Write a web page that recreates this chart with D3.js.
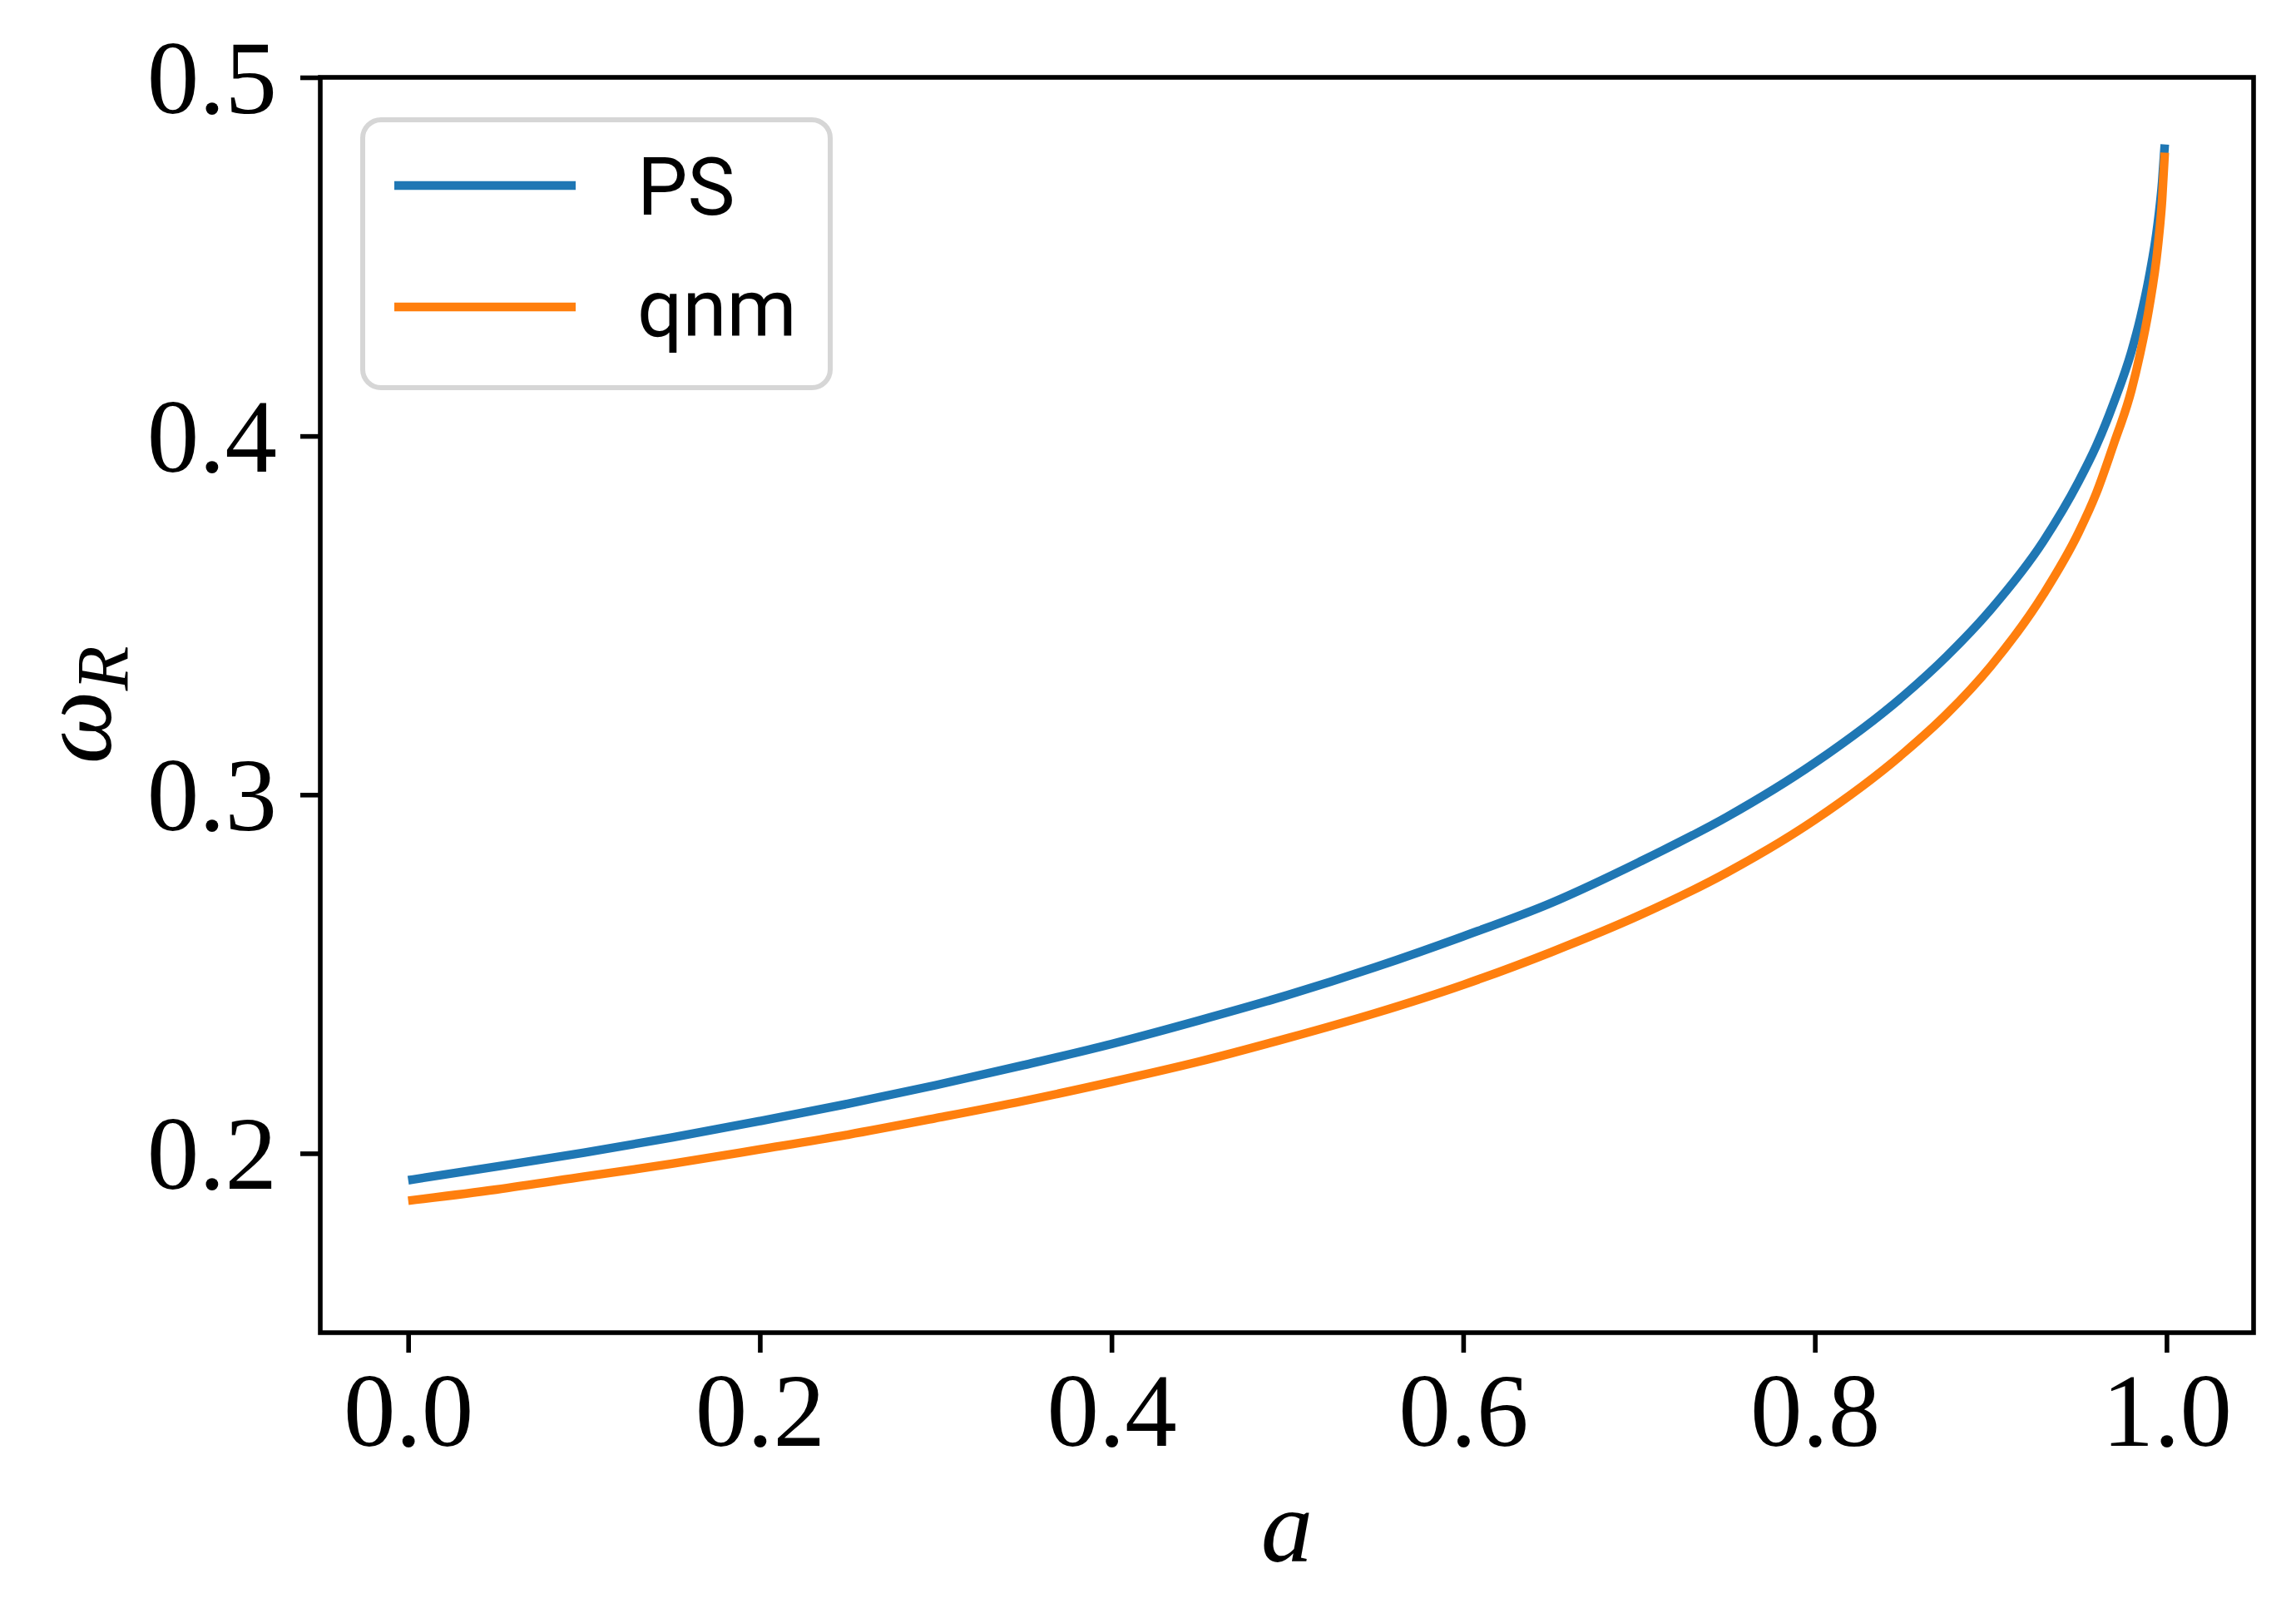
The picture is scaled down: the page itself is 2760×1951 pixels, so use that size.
<!DOCTYPE html>
<html>
<head>
<meta charset="UTF-8">
<title>omega_R vs a</title>
<script src="https://d3js.org/d3.v7.min.js"></script>
<style>
  body { margin: 0; background: #fff; }
  .tick text { font-family: "Liberation Serif", serif; font-size: 125px; fill: #000; }
  .tick line { stroke: #000; stroke-width: 5.6; }
  .domain { display: none; }
  .legend-text { font-family: Roboto, sans-serif; font-size: 96px; fill: #000; }
  .axis-label { font-family: "Liberation Serif", serif; font-style: italic; fill: #000; }
</style>
</head>
<body>
<div id="chart"></div>
<script>
// spin parameter a
const spins = [0, 0.05, 0.1, 0.15, 0.2, 0.25, 0.3, 0.35, 0.4, 0.45, 0.5, 0.55, 0.6, 0.65, 0.7, 0.75, 0.8, 0.85, 0.875, 0.9, 0.93, 0.95, 0.96, 0.97, 0.98, 0.985, 0.99, 0.995, 0.9975, 0.999];
// photon sphere frequency
const psValues = [0.1925, 0.1963, 0.2002, 0.2044, 0.2090, 0.2138, 0.2190, 0.2246, 0.2305, 0.2371, 0.2441, 0.2519, 0.2605, 0.2698, 0.2812, 0.2938, 0.3089, 0.3274, 0.3386, 0.3516, 0.3707, 0.3873, 0.3972, 0.4093, 0.4235, 0.4327, 0.4441, 0.4593, 0.4708, 0.4813];
// quasinormal mode frequency
const qnmValues = [0.1868, 0.1899, 0.1935, 0.1971, 0.2011, 0.2052, 0.2098, 0.2146, 0.2199, 0.2256, 0.2321, 0.2391, 0.2470, 0.2561, 0.2663, 0.2783, 0.2930, 0.3114, 0.3225, 0.3358, 0.3559, 0.3731, 0.3840, 0.3978, 0.4127, 0.4230, 0.4355, 0.4525, 0.4660, 0.4790];
const seriesNames = ["PS", "qnm"];
const seriesColors = ["#1f77b4", "#ff7f0e"];
const xTicks = [0, 0.2, 0.4, 0.6, 0.8, 1.0];
const yTicks = [0.2, 0.3, 0.4, 0.5];

const W = 2760, H = 1951;
const margin = {top: 93, right: 51, bottom: 349, left: 385};
const width = W - margin.left - margin.right,
      height = H - margin.top - margin.bottom;

const svg = d3.select("#chart").append("svg")
    .attr("width", W).attr("height", H);
svg.append("rect").attr("width", W).attr("height", H).attr("fill", "#fff");

const g = svg.append("g")
    .attr("transform", "translate(" + margin.left + "," + margin.top + ")");

const x = d3.scaleLinear().domain([-0.05, 1.0495]).range([0, width]);
const y = d3.scaleLinear().domain([0.15, 0.5]).range([height, 0]);

// lines
const line = d3.line()
    .curve(d3.curveMonotoneX)
    .x(d => x(d[0]))
    .y(d => y(d[1]));

[psValues, qnmValues].forEach(function(vals, i) {
  g.append("path")
    .datum(spins.map((a, j) => [a, vals[j]]))
    .attr("fill", "none")
    .attr("stroke", seriesColors[i])
    .attr("stroke-width", 10.4)
    .attr("stroke-linejoin", "round")
    .attr("d", line);
});

// axes
const xAxis = g.append("g")
    .attr("transform", "translate(0," + height + ")")
    .call(d3.axisBottom(x).tickValues(xTicks).tickSize(24).tickPadding(24)
      .tickFormat(d3.format(".1f")));
xAxis.selectAll(".tick text").attr("dy", null).attr("y", 136);

const yAxis = g.append("g")
    .call(d3.axisLeft(y).tickValues(yTicks).tickSize(24).tickPadding(28)
      .tickFormat(d3.format(".1f")));
yAxis.selectAll(".tick text").attr("dy", null).attr("y", 42);

// frame
g.append("rect")
    .attr("width", width).attr("height", height)
    .attr("fill", "none").attr("stroke", "#000").attr("stroke-width", 5.6);

// axis labels
svg.append("text")
    .attr("class", "axis-label")
    .attr("x", margin.left + width / 2)
    .attr("y", 1877)
    .attr("text-anchor", "middle")
    .attr("font-size", 125)
    .text("a");

const yl = svg.append("text")
    .attr("class", "axis-label")
    .attr("transform", "translate(133," + (margin.top + height / 2) + ") rotate(-90)")
    .attr("text-anchor", "middle")
    .attr("font-size", 125);
yl.append("tspan").text("ω");
yl.append("tspan").attr("font-size", 88).attr("dy", 20).text("R");

// legend
const leg = svg.append("g");
leg.append("rect")
    .attr("x", 436).attr("y", 144)
    .attr("width", 562).attr("height", 322)
    .attr("rx", 22).attr("ry", 22)
    .attr("fill", "#fff").attr("fill-opacity", 0.8)
    .attr("stroke", "#d6d6d6").attr("stroke-width", 6);

seriesNames.forEach(function(name, i) {
  const ly = 223 + i * 146;
  leg.append("line")
    .attr("x1", 474).attr("x2", 692)
    .attr("y1", ly).attr("y2", ly)
    .attr("stroke", seriesColors[i]).attr("stroke-width", 10.4);
  leg.append("text")
    .attr("class", "legend-text")
    .attr("x", 766).attr("y", ly + 35)
    .text(name);
});
</script>
</body>
</html>
